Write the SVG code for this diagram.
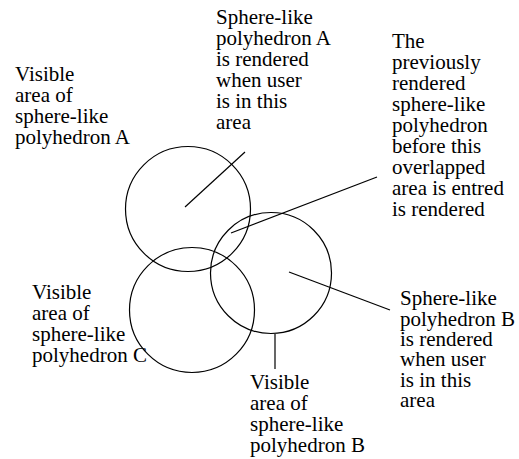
<svg xmlns="http://www.w3.org/2000/svg" width="519" height="459" viewBox="0 0 519 459">
<style>
.c{fill:none;stroke:#000;stroke-width:1.2}
.l{fill:none;stroke:#000;stroke-width:1.2}
.t{font-family:'Liberation Serif',Tinos,'DejaVu Serif',serif;font-size:21px;fill:#000}
</style>
<rect width="519" height="459" fill="#fff"/>
<g id="sphereA"><circle class="c" cx="188" cy="209" r="62.5"/></g>
<g id="sphereC"><circle class="c" cx="192" cy="310" r="62.5"/></g>
<g id="sphereB"><circle class="c" cx="271" cy="273" r="60.5"/></g>
<g id="connectors">
<line class="l" x1="245" y1="152" x2="185" y2="207"/>
<line class="l" x1="377" y1="177" x2="231" y2="233"/>
<line class="l" x1="289" y1="272" x2="390" y2="310"/>
<line class="l" x1="275" y1="334" x2="275" y2="369"/>
</g>
<g id="labelVisibleA" class="t"><text x="15" y="81">Visible</text><text x="15" y="102">area of</text><text x="15" y="123">sphere-like</text><text x="15" y="144">polyhedron A</text></g>
<g id="labelRenderA" class="t"><text x="216" y="24">Sphere-like</text><text x="216" y="45">polyhedron A</text><text x="216" y="66">is rendered</text><text x="216" y="87">when user</text><text x="216" y="108">is in this</text><text x="216" y="129">area</text></g>
<g id="labelPrevious" class="t"><text x="392" y="48">The</text><text x="392" y="69">previously</text><text x="392" y="90">rendered</text><text x="392" y="111">sphere-like</text><text x="392" y="132">polyhedron</text><text x="392" y="153">before this</text><text x="392" y="174">overlapped</text><text x="392" y="195">area is entred</text><text x="392" y="216">is rendered</text></g>
<g id="labelVisibleC" class="t"><text x="32" y="299">Visible</text><text x="32" y="320">area of</text><text x="32" y="341">sphere-like</text><text x="32" y="362">polyhedron C</text></g>
<g id="labelVisibleB" class="t"><text x="250" y="389">Visible</text><text x="250" y="410">area of</text><text x="250" y="431">sphere-like</text><text x="250" y="452">polyhedron B</text></g>
<g id="labelRenderB" class="t"><text x="400" y="305">Sphere-like</text><text x="400" y="326">polyhedron B</text><text x="400" y="346">is rendered</text><text x="400" y="366">when user</text><text x="400" y="387">is in this</text><text x="400" y="407">area</text></g>
</svg>
